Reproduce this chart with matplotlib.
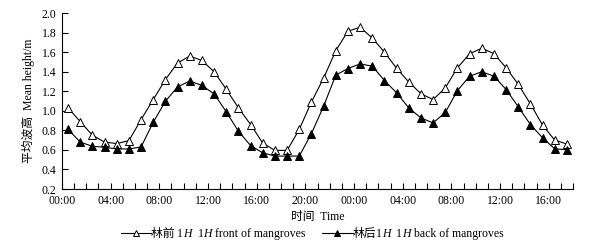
import matplotlib
matplotlib.use('Agg')
import matplotlib.pyplot as plt
import numpy as np
from matplotlib.lines import Line2D
from matplotlib.offsetbox import HPacker, TextArea, DrawingArea, AnchoredOffsetbox

# hourly mean wave height, 42 hours starting 00:00
hours = list(range(42))
front = [1.03, 0.89, 0.75, 0.68, 0.665, 0.695, 0.91, 1.115, 1.32, 1.49,
         1.56, 1.515, 1.40, 1.22, 1.03, 0.86, 0.67, 0.595, 0.595, 0.81,
         1.09, 1.335, 1.615, 1.815, 1.855, 1.745, 1.60, 1.435, 1.295, 1.175,
         1.115, 1.235, 1.44, 1.585, 1.64, 1.585, 1.44, 1.27, 1.07, 0.852,
         0.70, 0.66]
back = [0.81, 0.68, 0.637, 0.627, 0.61, 0.61, 0.63, 0.883, 1.098, 1.245,
        1.305, 1.26, 1.173, 0.99, 0.79, 0.645, 0.57, 0.537, 0.537, 0.537,
        0.767, 1.047, 1.365, 1.433, 1.48, 1.457, 1.31, 1.184, 1.03, 0.927,
        0.876, 0.983, 1.207, 1.354, 1.40, 1.354, 1.218, 1.04, 0.859, 0.723,
        0.61, 0.603]
tick_labels = ['00:00', '04:00', '08:00', '12:00', '16:00', '20:00',
               '00:00', '04:00', '08:00', '12:00', '16:00']

serif = 'Liberation Serif'
cjk = 'Noto Sans CJK SC'
fams = [serif, cjk]
plt.rcParams['font.family'] = fams
fs = 8.5

fig = plt.figure(figsize=(5.92, 2.47), dpi=100)
ax = fig.add_axes([0.1047, 0.2348, 0.8633, 0.7122])

x = np.array(hours) + 0.5
ax.plot(x, front, color='k', lw=0.8, marker='^', ms=5.5, mfc='white', mec='k', mew=0.7)
ax.plot(x, back, color='k', lw=0.8, marker='^', ms=5.5, mfc='k', mec='k', mew=0.7)

ax.set_xlim(0, 42)
ax.set_ylim(0.2, 2.0)
ax.set_xticks(np.arange(0, 41, 4))
ax.set_xticklabels(tick_labels)
ax.set_xticks(np.arange(0, 43, 1), minor=True)
ax.set_yticks(np.arange(0.2, 2.01, 0.2))
ax.set_yticklabels(['%.1f' % v for v in np.arange(0.2, 2.01, 0.2)])
ax.tick_params(direction='in', labelsize=fs, width=0.8, length=4, pad=4)
ax.tick_params(which='minor', direction='in', width=0.8, length=4)
ax.tick_params(axis='y', which='minor', left=False)
for s in ['top', 'right']:
    ax.spines[s].set_visible(False)
for s in ['left', 'bottom']:
    ax.spines[s].set_linewidth(0.8)

ax.set_ylabel('平均波高  Mean height/m', fontsize=fs, labelpad=5)
ax.set_xlabel('时间  Time', fontsize=fs, labelpad=3)


def handle(filled):
    da = DrawingArea(22, 8, 0, 0)
    da.add_artist(Line2D([0, 22], [3, 3], color='k', lw=0.8))
    da.add_artist(Line2D([11], [3], marker='^', ms=5, mfc='k' if filled else 'w',
                         mec='k', mew=0.7))
    return da


def txt(s, italic=False, family=None):
    return TextArea(s, textprops=dict(family=family or fams, size=fs,
                                      style='italic' if italic else 'normal'))


def entry(filled, cn, en):
    parts = [handle(filled), txt(cn, family=[cjk]), txt('1'), txt('H', True),
             txt('  1'), txt('H', True), txt(en)]
    return HPacker(children=parts, align='baseline', pad=0, sep=0)


row = HPacker(children=[entry(False, '林前 ', ' front of mangroves'),
                        entry(True, '林后', ' back of mangroves')],
              align='baseline', pad=0, sep=12)
leg = AnchoredOffsetbox(loc='center', child=row, bbox_to_anchor=(0.527, 0.057),
                        bbox_transform=fig.transFigure, frameon=False, pad=0, borderpad=0)
fig.add_artist(leg)

fig.savefig('out.png', dpi=100)
